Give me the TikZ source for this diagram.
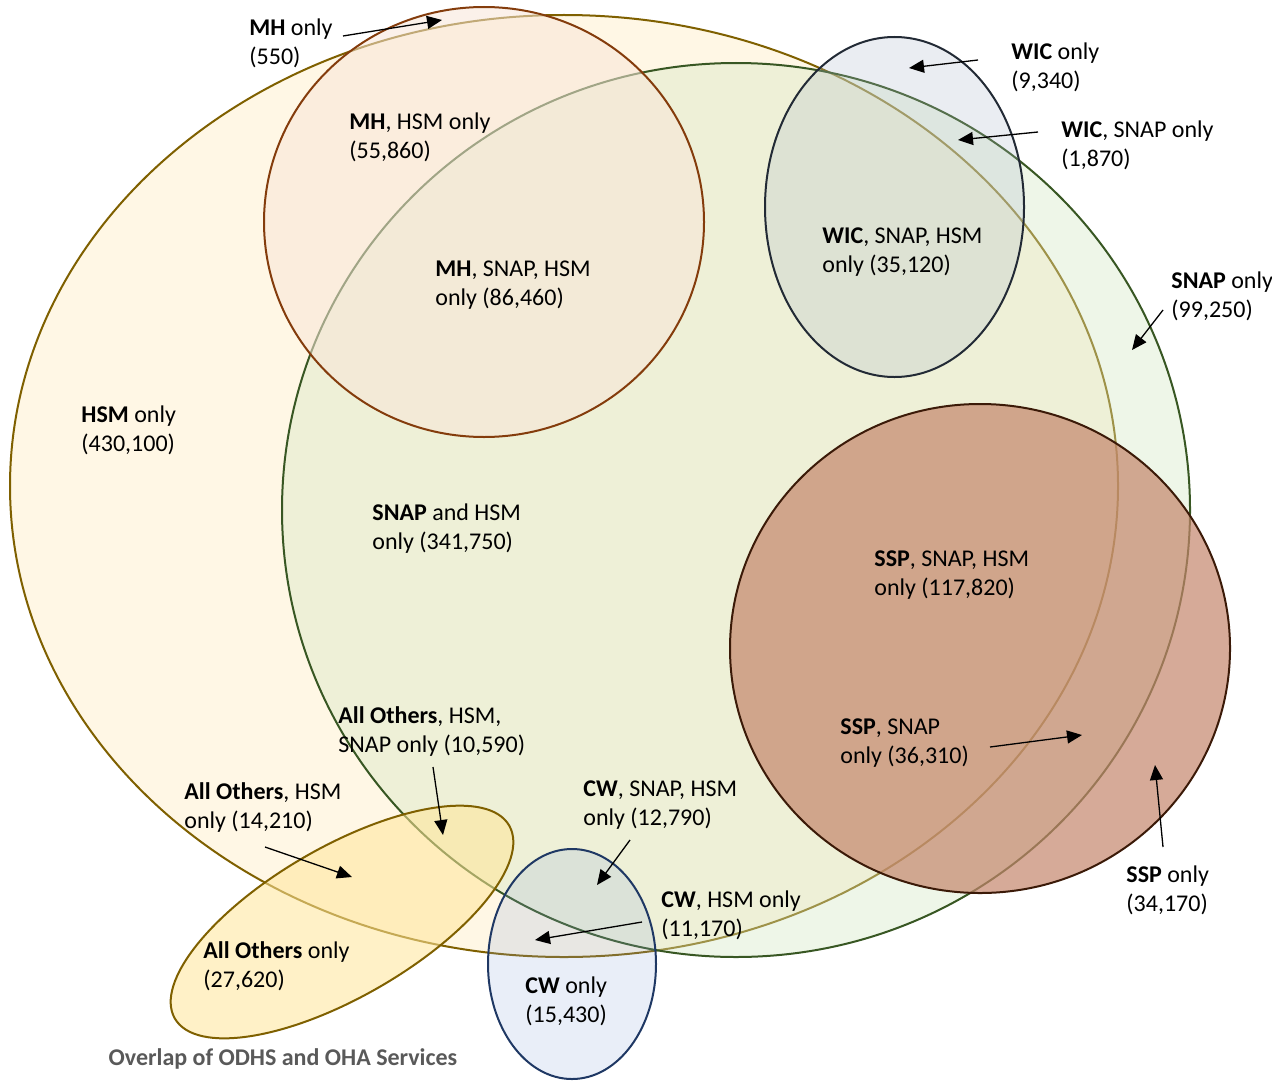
\documentclass[tikz,border=0pt]{standalone}
\usepackage{fontspec}
\setmainfont{Carlito}
\usetikzlibrary{arrows.meta,positioning,calc}

\definecolor{hsmline}{HTML}{7F6000}
\definecolor{hsmfill}{RGB}{255,247,229}
\definecolor{snapline}{HTML}{385723}
\definecolor{snapfill}{RGB}{210,231,194}
\definecolor{mhline}{HTML}{843C0C}
\definecolor{mhfill}{RGB}{248,230,216}
\definecolor{wicline}{HTML}{222A35}
\definecolor{wicfill}{HTML}{ADB9CA}
\definecolor{sspline}{HTML}{3B1A08}
\definecolor{sspfill}{RGB}{196,134,108}
\definecolor{othfill}{HTML}{FFE699}
\definecolor{cwline}{HTML}{1F3864}
\definecolor{cwfill}{HTML}{8FAADC}
\definecolor{titlegray}{HTML}{595959}

\begin{document}
\begin{tikzpicture}[x=0.5pt,y=-0.5pt,
  lbl/.style={align=left,anchor=west,inner sep=0pt,yshift=-1pt,font=\fontsize{12}{14.5}\selectfont},
  ptr/.style={-{Triangle[length=7.5pt,width=6.5pt]},line width=0.65pt},
  set/.style={line width=1pt}]
\useasboundingbox (0,0) rectangle (1272,1081);

% the service sets
\draw[set,draw=hsmline,fill=hsmfill] (564,486) ellipse [x radius=554,y radius=471];
\draw[set,draw=snapline,fill=snapfill,fill opacity=0.375] (736,510) ellipse [x radius=454,y radius=447];
\draw[set,draw=mhline,fill=mhfill,fill opacity=0.55] (484,222) ellipse [x radius=220,y radius=215];
\draw[set,draw=wicline,fill=wicfill,fill opacity=0.25] (894.5,207) ellipse [x radius=129.5,y radius=170];
\draw[set,draw=sspline,fill=sspfill,fill opacity=0.7] (980,648.5) ellipse [x radius=250,y radius=244.5];
\draw[set,draw=hsmline,fill=othfill,fill opacity=0.55,rotate around={30:(342,922)}] (342,922) ellipse [x radius=193,y radius=75];
\draw[set,draw=cwline,fill=cwfill,fill opacity=0.2] (572,964) ellipse [x radius=84,y radius=115];

% counts
\node[lbl] (mhonly) at (249,41) {\textbf{MH} only\\(550)};
\node[lbl] (mhhsm) at (349,135.5) {\textbf{MH}, HSM only\\(55,860)};
\node[lbl] (mhsnap) at (435,283.5) {\textbf{MH}, SNAP, HSM\\only (86,460)};
\node[lbl] (wiconly) at (1011,65.5) {\textbf{WIC} only\\(9,340)};
\node[lbl] (wicsnap) at (1061,143.5) {\textbf{WIC}, SNAP only\\(1,870)};
\node[lbl] (wicall) at (822,250.5) {\textbf{WIC}, SNAP, HSM\\only (35,120)};
\node[lbl] (snaponly) at (1171,294.5) {\textbf{SNAP} only\\(99,250)};
\node[lbl] (hsmonly) at (81,428.5) {\textbf{HSM} only\\(430,100)};
\node[lbl] (snaphsm) at (372,526.5) {\textbf{SNAP} and HSM\\only (341,750)};
\node[lbl] (sspall) at (874,573.5) {\textbf{SSP}, SNAP, HSM\\only (117,820)};
\node[lbl] (othall) at (338,729.5) {\textbf{All Others}, HSM,\\SNAP only (10,590)};
\node[lbl] (sspsnap) at (840,741.5) {\textbf{SSP}, SNAP\\only (36,310)};
\node[lbl] (othhsm) at (184,805.5) {\textbf{All Others}, HSM\\only (14,210)};
\node[lbl] (cwall) at (583,803.5) {\textbf{CW}, SNAP, HSM\\only (12,790)};
\node[lbl] (ssponly) at (1126,888.5) {\textbf{SSP} only\\(34,170)};
\node[lbl] (cwhsm) at (661,913.5) {\textbf{CW}, HSM only\\(11,170)};
\node[lbl] (othonly) at (203,964.5) {\textbf{All Others} only\\(27,620)};
\node[lbl] (cwonly) at (525,999) {\textbf{CW} only\\(15,430)};
\node[font=\fontsize{12}{14}\selectfont\bfseries,text=titlegray,inner sep=0pt] (title) at (283,1059) {Overlap of ODHS and OHA Services};

% pointers
\coordinate (mh-s) at (343,36);    \coordinate (mh-t) at (442,20);
\coordinate (wic-s) at (978,60);   \coordinate (wic-t) at (909,68);
\coordinate (wsn-s) at (1038,132); \coordinate (wsn-t) at (958,140);
\coordinate (sn-s) at (1163,310);  \coordinate (sn-t) at (1132,350);
\coordinate (ssn-s) at (990,747);  \coordinate (ssn-t) at (1082,735);
\coordinate (ssp-s) at (1163,847); \coordinate (ssp-t) at (1155,765);
\coordinate (oha-s) at (433,767);  \coordinate (oha-t) at (443,835);
\coordinate (oh-s) at (265,847);   \coordinate (oh-t) at (352,877);
\coordinate (cwa-s) at (630,840);  \coordinate (cwa-t) at (597,885);
\coordinate (cwh-s) at (642,922);  \coordinate (cwh-t) at (535,940);
\foreach \p in {mh,wic,wsn,sn,ssn,ssp,oha,oh,cwa,cwh}
  \draw[ptr] (\p-s) -- (\p-t);
\end{tikzpicture}
\end{document}
